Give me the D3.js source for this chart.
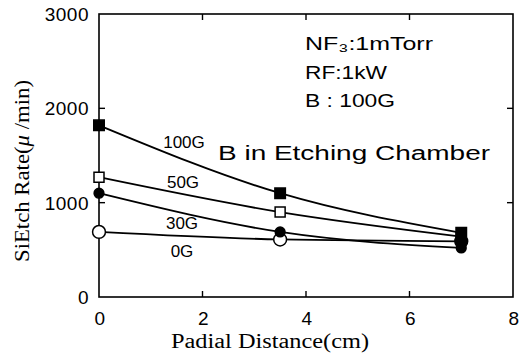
<!DOCTYPE html>
<html>
<head>
<meta charset="utf-8">
<script src="https://cdn.jsdelivr.net/npm/d3@7"></script>
<style>
  body { margin: 0; background: #fff; }
  svg { display: block; }
  .tick-lbl { font-family: "Liberation Sans", Arial, sans-serif; font-size: 19px; letter-spacing: 0.5px; }
  .ttl { font-family: "Liberation Serif", "DejaVu Serif", serif; font-size: 20px; }
  .note { font-family: "Liberation Sans", Arial, sans-serif; font-size: 19px; }
</style>
</head>
<body>
<div id="chart"></div>
<script>
// distance in cm, etch rate in u/min
const distances = [0, 3.5, 7];
const rate100G = [1820, 1100, 680];
const rate50G = [1270, 900, 640];
const rate30G = [1100, 690, 520];
const rate0G = [690, 610, 590];
const seriesNames = ["100G", "50G", "30G", "0G"];
const xTicks = [0, 2, 4, 6, 8];
const yTicks = [0, 1000, 2000, 3000];
const notes = ["NF\u2083:1mTorr", "RF:1kW", "B : 100G"];
const noteWidths = [128, 82, 90];

const width = 521, height = 358;
const pad = {top: 14, right: 8, bottom: 61, left: 99};

const svg = d3.select("#chart").append("svg")
  .attr("width", width)
  .attr("height", height);

const x = d3.scaleLinear().domain([0, 8]).range([pad.left, width - pad.right]);
const y = d3.scaleLinear().domain([0, 3000]).range([height - pad.bottom, pad.top]);

// frame
svg.append("rect")
  .attr("x", x(0)).attr("y", y(3000))
  .attr("width", x(8) - x(0)).attr("height", y(0) - y(3000))
  .attr("fill", "none").attr("stroke", "#000").attr("stroke-width", 1.6);

// inner ticks on all four sides
const tk = 6;
xTicks.slice(1, -1).forEach(v => {
  svg.append("line").attr("x1", x(v)).attr("x2", x(v)).attr("y1", y(0)).attr("y2", y(0) - tk)
    .attr("stroke", "#000").attr("stroke-width", 1.4);
  svg.append("line").attr("x1", x(v)).attr("x2", x(v)).attr("y1", y(3000)).attr("y2", y(3000) + tk)
    .attr("stroke", "#000").attr("stroke-width", 1.4);
});
yTicks.slice(1, -1).forEach(v => {
  svg.append("line").attr("x1", x(0)).attr("x2", x(0) + tk).attr("y1", y(v)).attr("y2", y(v))
    .attr("stroke", "#000").attr("stroke-width", 1.4);
  svg.append("line").attr("x1", x(8)).attr("x2", x(8) - tk).attr("y1", y(v)).attr("y2", y(v))
    .attr("stroke", "#000").attr("stroke-width", 1.4);
});

// tick labels
svg.selectAll(".xl").data(xTicks).enter().append("text")
  .attr("class", "tick-lbl")
  .attr("x", d => x(d) + 1).attr("y", y(0) + 28)
  .attr("text-anchor", "middle")
  .text(d => d);
svg.selectAll(".yl").data(yTicks).enter().append("text")
  .attr("class", "tick-lbl")
  .attr("x", x(0) - 10).attr("y", d => y(d) + 7)
  .attr("text-anchor", "end")
  .text(d => d);

// axis titles (the original type is wide, so stretch the glyphs)
svg.append("text").attr("class", "ttl")
  .attr("x", 171).attr("y", height - 10)
  .attr("textLength", 198).attr("lengthAdjust", "spacingAndGlyphs")
  .text("Padial Distance(cm)");
svg.append("text").attr("class", "ttl")
  .attr("transform", "translate(29,262) rotate(-90)")
  .attr("textLength", 182).attr("lengthAdjust", "spacingAndGlyphs")
  .html("SiEtch Rate(<tspan font-style='italic'>\u03bc</tspan> /min)");

// curves
const allRates = [rate100G, rate50G, rate30G, rate0G];
const line = d3.line()
  .x((d, i) => x(distances[i]))
  .y(d => y(d))
  .curve(d3.curveMonotoneX);

allRates.forEach(r => {
  svg.append("path").attr("d", line(r))
    .attr("fill", "none").attr("stroke", "#000").attr("stroke-width", 1.8);
});

// markers
const markers = [
  {r: rate100G, gen: d3.symbol().type(d3.symbolSquare).size(110), fill: "#000"},
  {r: rate50G, gen: d3.symbol().type(d3.symbolSquare).size(100), fill: "#fff"},
  {r: rate30G, gen: d3.symbol().type(d3.symbolCircle).size(75), fill: "#000"},
  {r: rate0G, gen: d3.symbol().type(d3.symbolCircle).size(130), fill: "#fff"}
];
// open ones first so the filled ones sit on top; at 7 cm they all read as black
[3, 1, 2, 0].forEach(k => {
  const m = markers[k];
  m.r.forEach((v, i) => {
    const last = i === distances.length - 1;
    svg.append("path")
      .attr("d", m.gen())
      .attr("transform", `translate(${x(distances[i])},${y(v)})`)
      .attr("fill", last ? "#000" : m.fill)
      .attr("stroke", "#000").attr("stroke-width", 1.5);
  });
});

// series labels
const labelPos = [[184, 148], [183, 188], [182, 229], [182, 257]];
seriesNames.forEach((s, i) => {
  svg.append("text").attr("class", "note")
    .attr("x", labelPos[i][0]).attr("y", labelPos[i][1])
    .attr("text-anchor", "middle")
    .style("font-size", "17px")
    .text(s);
});

svg.append("text").attr("class", "note")
  .attr("x", 218).attr("y", 160)
  .style("font-size", "20px")
  .attr("textLength", 272).attr("lengthAdjust", "spacingAndGlyphs")
  .text("B in Etching Chamber");

notes.forEach((t, i) => {
  svg.append("text").attr("class", "note")
    .attr("x", 305).attr("y", 50 + i * 28.5)
    .attr("textLength", noteWidths[i]).attr("lengthAdjust", "spacingAndGlyphs")
    .text(t);
});
</script>
</body>
</html>
